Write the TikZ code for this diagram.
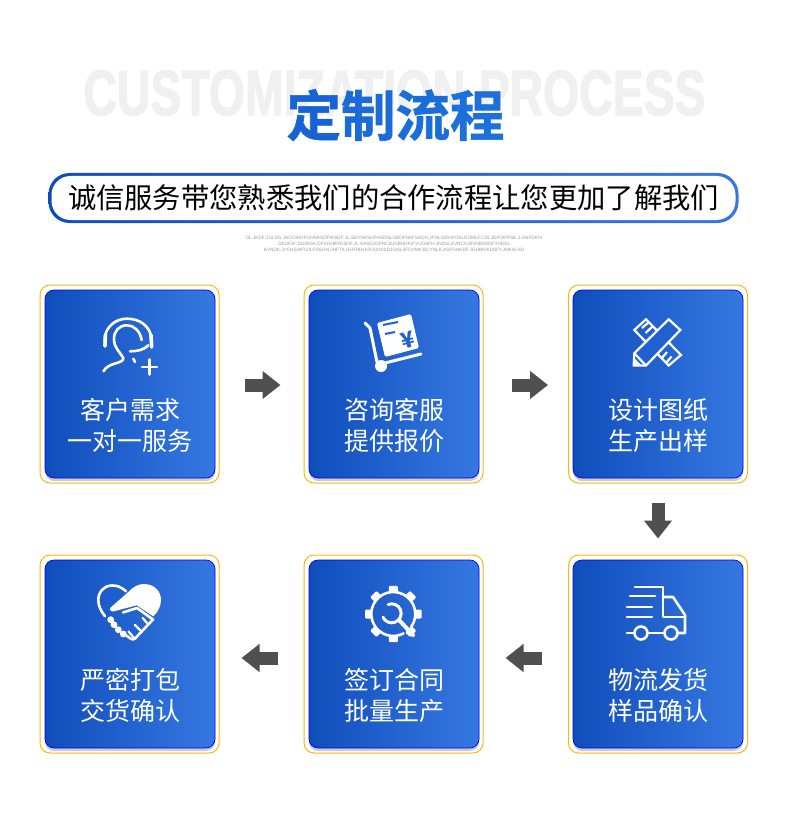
\documentclass[tikz,border=0pt]{standalone}
\usepackage{xcolor}
\usepackage{fontspec}
\setmainfont{Noto Sans CJK SC}
\newfontfamily\engfont[FakeBold=2.2]{Liberation Sans Bold}
\newfontfamily\smallfont{Liberation Sans}
\newfontfamily\titlefont[FakeBold=1.2]{Noto Sans CJK SC Bold}
\usetikzlibrary{arrows.meta,shadows}
\definecolor{cardleft}{HTML}{0F4DBB}
\definecolor{cardright}{HTML}{3678E2}
\definecolor{cardmid}{HTML}{2161CF}
\definecolor{frameyellow}{HTML}{FBB80F}
\definecolor{arrowgray}{HTML}{505050}
\tikzset{
  cardframe/.style={draw=frameyellow,line width=1pt,fill=white,rounded corners=10pt,minimum width=179pt,minimum height=198pt,inner sep=0pt},
  cardbody/.style={draw=blue,line width=.7pt,left color=cardleft,right color=cardright,rounded corners=9pt,minimum width=170pt,minimum height=188pt,inner sep=0pt,drop shadow={shadow xshift=0pt,shadow yshift=-3pt,opacity=.2,fill=black}},
  cardlabel/.style={text=white,font=\fontsize{25}{31}\selectfont,align=center,inner sep=0pt},
  iconline/.style={draw=white,line width=2.6pt,line cap=round,line join=round},
  flow/.style={draw=arrowgray,line width=13pt,-{Triangle[length=18pt,width=27pt]}}
}
\begin{document}
\begin{tikzpicture}[x=1pt,y=-1pt]
  \useasboundingbox (0,0) rectangle (790,837);
  \node[text=black!6,font=\engfont\fontsize{64}{64}\selectfont,xscale=.725,inner sep=0pt] (english) at (394.5,93) {CUSTOMIZATION PROCESS};
  \node[font=\titlefont\fontsize{54.5}{54.5}\selectfont,inner sep=0pt] (title) at (395.5,115) {\textcolor[HTML]{1762D4}{定}\textcolor[HTML]{1A6AD8}{制}\textcolor[HTML]{1B6EDA}{流}\textcolor[HTML]{1C70DC}{程}};
  \node[left color=cardleft,right color=cardright,rounded corners=21pt,minimum width=690pt,minimum height=50pt,inner sep=0pt] (pillback) at (393.5,198) {};
  \node[fill=white,rounded corners=19pt,minimum width=684pt,minimum height=44pt,inner sep=0pt,font=\fontsize{28.3}{28.3}\selectfont] (slogan) at (pillback) {诚信服务带您熟悉我们的合作流程让您更加了解我们};
  \node[text=black!40,font=\smallfont\fontsize{4.7}{6.2}\selectfont,align=center,inner sep=0pt] (smallprint) at (394,244) {OL;JKDF;JGLDS;JHGOIHDFGHNKSDFIKSDF;JL,SDYNKSDFHSDNLGBDFNKFSADH;JFNLISDHFOSLDIJMLF.CDLJDFOIFPSE;J.GNFDKIV\\OSUIGF;JSDNGK,DFSGHBYKSDF;JL KASDJGFNCBJGBHDKIFYUOAFH.JNDSLSVNCX,MVNBASDFYHDSL\\KVNDK;JVCHSDIFUJLFDSGN.JHFTILGHTRHLKRJUIOISDJGNLSFDVMK;BCYNLK,ASFGNKDF.JGHBIVKDSFY.JNKALSD};

  \node[cardframe] (frameA) at (129.5,384) {};
  \node[cardframe] (frameB) at (393.5,384) {};
  \node[cardframe] (frameC) at (658,384) {};
  \node[cardframe] (frameD) at (129.5,654) {};
  \node[cardframe] (frameE) at (393.5,654) {};
  \node[cardframe] (frameF) at (658,654) {};
  \node[cardbody] (bodyA) at (130,384) {};
  \node[cardbody] (bodyB) at (394,384) {};
  \node[cardbody] (bodyC) at (658,384) {};
  \node[cardbody] (bodyD) at (130,654) {};
  \node[cardbody] (bodyE) at (394,654) {};
  \node[cardbody] (bodyF) at (658,654) {};
  \node[cardlabel] (labelA) at (130,425.7) {客户需求\\一对一服务};
  \node[cardlabel] (labelB) at (394,425.7) {咨询客服\\提供报价};
  \node[cardlabel] (labelC) at (658,425.7) {设计图纸\\生产出样};
  \node[cardlabel] (labelD) at (130,695.7) {严密打包\\交货确认};
  \node[cardlabel] (labelE) at (394,695.7) {签订合同\\批量生产};
  \node[cardlabel] (labelF) at (658,695.7) {物流发货\\样品确认};

  \draw[flow,shorten <=25pt,shorten >=23pt] ([yshift=-1pt]frameA.east) -- ([yshift=-1pt]frameB.west);
  \draw[flow,shorten <=28pt,shorten >=20pt] ([yshift=-1pt]frameB.east) -- ([yshift=-1pt]frameC.west);
  \draw[flow,shorten <=19pt,shorten >=16pt] (frameC.south) -- (frameF.north);
  \draw[flow,shorten <=26pt,shorten >=22pt] ([yshift=-4pt]frameF.west) -- ([yshift=-4pt]frameE.east);
  \draw[flow,shorten <=26pt,shorten >=22pt] ([yshift=-4pt]frameE.west) -- ([yshift=-4pt]frameD.east);

  \draw[iconline] (105,346) -- (105,336) .. controls (107,326) and (116,318.7) .. (127,318.7) .. controls (140,318.7) and (149,326) .. (151,336) -- (151.7,347);
  \draw[iconline,line width=3.6pt] (105.4,335) -- (105,346) (151,335) -- (151.7,347);
  \draw[iconline] (141.7,340) .. controls (140,331) and (134,325.3) .. (127,325.3) .. controls (119,325.3) and (114,331) .. (114,339) .. controls (114,348) and (120,352) .. (123.3,358) .. controls (124,364) and (108,362) .. (103.5,371.3);
  \draw[iconline] (148.3,345.3) .. controls (144,350) and (137,351.3) .. (130,351.3);
  \draw[iconline] (133.3,358.7) -- (135,362);
  \draw[iconline] (142,367) -- (157,367) (149.4,359.5) -- (149.4,374.5);

  \fill[white,rounded corners=1.5pt] (377,323) -- (411,314) -- (419,348) -- (385,357) -- cycle;
  \draw[iconline,line width=3pt] (365,323) -- (370,328) -- (377,362);
  \draw[iconline,line width=3pt] (385,363) -- (421,354);
  \fill[white] (381,366) circle (6pt);
  \draw[cardmid,line width=2pt] (383,325) -- (398,322) (385,334) -- (395,332);
  \node[text=cardmid,font=\bfseries\fontsize{22}{22}\selectfont,rotate=15,inner sep=0pt] (yen) at (408,340) {¥};

  \draw[iconline,line join=miter,line cap=butt,line width=2.2pt] (634.3,330) -- (646,319.3) -- (681,355) -- (668.7,365.5) -- cycle;
  \draw[iconline,line cap=butt,line width=2.2pt] (642,328) -- (649,322) (645.5,333) -- (653,326) (662,358) -- (667,352) (666.5,362.5) -- (671.5,356.5);
  \draw[iconline,line join=miter,line width=2.2pt,fill=cardmid] (668.7,319.3) -- (680.3,330) -- (646,365.5) -- (633.7,365.5) -- (634.3,353.3) -- cycle;
  \fill[white] (633.7,365.5) -- (634.3,358) -- (641.5,365.5) -- cycle;
  \draw[iconline,line cap=butt,line width=2.2pt] (634.3,353.3) -- (646,365.5);

  \draw[iconline] (126,591.3) .. controls (120,586) and (116,585.5) .. (112,585.5) .. controls (104,585.5) and (98.3,592) .. (98.3,600) .. controls (98.3,606) and (101,611) .. (105,616.3);
  \fill[white] (128.3,592) .. controls (134,586) and (139,584) .. (144,584) .. controls (154,584) and (161,591) .. (161,600) .. controls (161,606) and (158,612) .. (153.3,616.3) -- (136.7,605.3) -- (114,611.3) .. controls (110.5,612) and (109,609.5) .. (110.7,607.5) -- cycle;
  \draw[iconline] (123,612.5) -- (137,608) -- (153,619.5) -- (136,637.5) .. controls (134,640) and (132,640) .. (129,637.5) -- (125,634.5);
  \draw[iconline,line width=2.2pt] (147,623) -- (142.7,618) (140,630) -- (135,625) (133.3,637) -- (128.5,631.5);
  \fill[white] (110.7,619.7) circle (3.4pt) (114,624.7) circle (3.4pt) (118.3,629.7) circle (3.4pt) (123.3,634) circle (3.4pt);

  \draw[iconline] (403.6,633.4) arc[start angle=62,end angle=395,x radius=22pt,y radius=-22pt];
  \draw[iconline,line width=3pt] (388.1,604.5) arc[start angle=-112,end angle=156,x radius=9.5pt,y radius=-9.5pt];
  \draw[iconline,line width=4pt] (400,621) -- (413,635);
  \foreach \a in {0,45,...,315}
    \fill[white,rounded corners=1pt,rotate around={\a:(393.3,614)}] (414.5,609.5) rectangle (421.5,618.5);

  \draw[iconline] (635,587) -- (663,587) -- (663,617) -- (685,617);
  \draw[iconline] (663,597) -- (673,597) -- (685,615) -- (685,633) -- (677,633);
  \draw[iconline] (641,633) circle (6.5pt) (671,633) circle (6.5pt);
  \draw[iconline] (647,633) -- (664,633) (627,633) -- (634,633);
  \draw[iconline] (630,596) -- (655,596) (627,607) -- (652,607) (627,617) -- (652,617);
\end{tikzpicture}
\end{document}
